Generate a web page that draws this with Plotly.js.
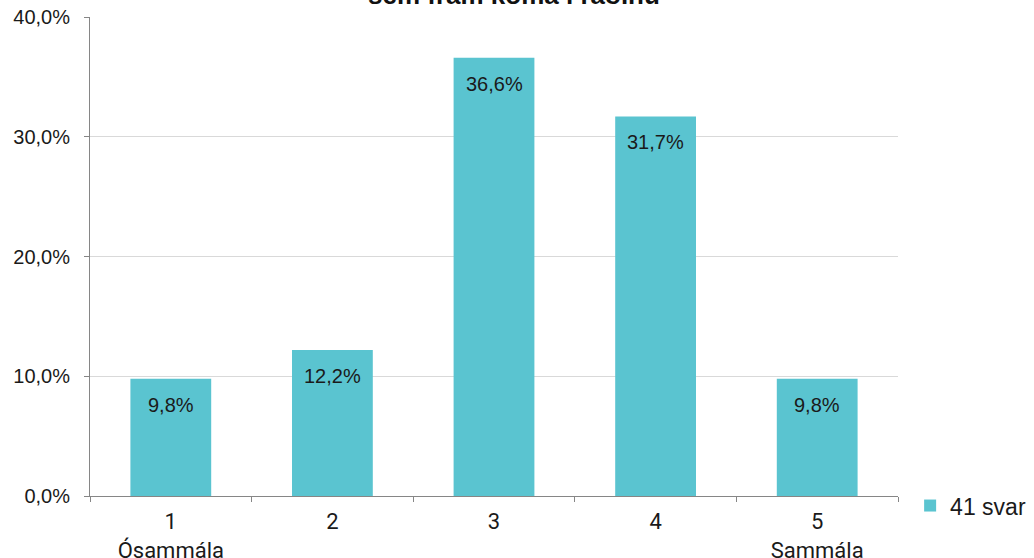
<!DOCTYPE html>
<html><head><meta charset="utf-8">
<script src="https://cdn.plot.ly/plotly-3.0.1.min.js"></script>
<style>html,body{margin:0;padding:0;background:#fff;}#chart{width:1034px;height:558px;}</style>
</head><body><div id="chart"></div>
<script>
var categories = ['1<br>Ósammála', '2', '3', '4', '5<br>Sammála'];
var values = [9.8, 12.2, 36.6, 31.7, 9.8];
var seriesName = '41 svar';
var titleText = 'sem fram koma í ráðinu';
var yTicks = [0, 10, 20, 30, 40];
var yTickText = ['0,0%', '10,0%', '20,0%', '30,0%', '40,0%'];

var fnt = 'Arial, "Liberation Sans", sans-serif';
var trace = {
  type: 'bar', x: categories, y: values, name: seriesName,
  marker: {color: '#5AC4D0'}, width: 0.5, showlegend: true,
  hoverinfo: 'none'
};
var annotations = categories.map(function(c, i){
  return {x: i, y: values[i], xref: 'x', yref: 'y', yshift: -26,
    text: values[i].toFixed(1).replace('.', ',') + '%', showarrow: false,
    font: {family: fnt, size: 20, color: '#1a1a1a'}};
});
annotations.push({xref: 'paper', yref: 'paper', x: 0.525, y: 1.0104, yanchor: 'bottom',
  text: '<b>' + titleText + '</b>', showarrow: false,
  font: {family: fnt, size: 26, color: '#111'}});
var layout = {
  width: 1034, height: 558,
  margin: {l: 90, r: 136, t: 17, b: 62, pad: 0, autoexpand: false},
  separators: ',.',
  paper_bgcolor: '#fff', plot_bgcolor: '#fff',
  xaxis: {type: 'category', tickson: 'boundaries', ticks: 'outside', ticklen: 5,
    tickcolor: '#868686', showline: true, linecolor: '#868686', linewidth: 1,
    showgrid: false, tickfont: {family: 'Roboto, Arial, sans-serif', size: 22, color: '#1a1a1a'},
    ticklabelstandoff: 6, automargin: false, fixedrange: true},
  yaxis: {range: [0, 40], tickvals: yTicks, ticktext: yTickText,
    ticks: 'outside', ticklen: 5, tickcolor: '#868686', showline: true, linecolor: '#868686',
    linewidth: 1, showgrid: true, gridcolor: '#d9d9d9', zeroline: false,
    tickfont: {family: fnt, size: 20, color: '#1a1a1a'}, ticklabelstandoff: 10,
    automargin: false, fixedrange: true},
  legend: {x: 1.015, y: -0.02, xanchor: 'left', yanchor: 'middle',
    font: {family: fnt, size: 23, color: '#1a1a1a'}, itemwidth: 30},
  annotations: annotations,
  bargap: 0.5
};
Plotly.newPlot('chart', [trace], layout, {staticPlot: true, displayModeBar: false});
</script></body></html>
